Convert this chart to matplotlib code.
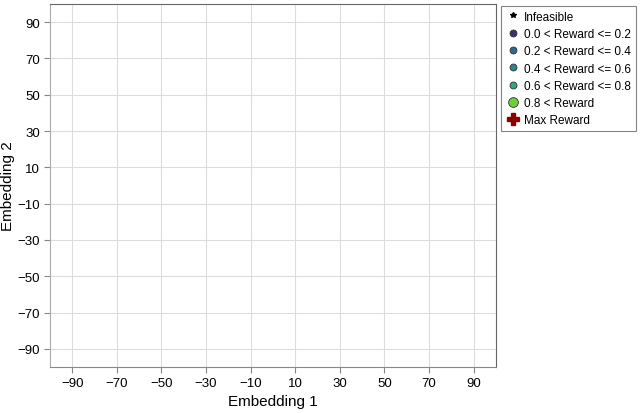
import numpy as np
import matplotlib
matplotlib.use('Agg')
from matplotlib import pyplot as plt
from matplotlib.lines import Line2D

plt.rcParams['font.family'] = ['Liberation Sans', 'DejaVu Sans']

# no points in the reference: all series are empty
emb1 = []
emb2 = []
rewards = []

labels = ['0.0 < Reward <= 0.2', '0.2 < Reward <= 0.4', '0.4 < Reward <= 0.6',
          '0.6 < Reward <= 0.8', '0.8 < Reward']
colors = ['#3b2f73', '#2f6690', '#23878b', '#2aaa7a', '#6ccf3c']
ticks = [-90, -70, -50, -30, -10, 10, 30, 50, 70, 90]

fig = plt.figure(figsize=(6.4, 4.14), dpi=100)
ax = fig.add_axes([0.078, 0.111, 0.697, 0.877])
ax.scatter(emb1, emb2, c=rewards)

ax.set_xlim(-100, 100)
ax.set_ylim(-100, 100)
ax.set_xticks(ticks)
ax.set_yticks(ticks)
ax.set_xticklabels(['\u2212%d' % -t if t < 0 else str(t) for t in ticks])
ax.set_yticklabels(['\u2212%d' % -t if t < 0 else str(t) for t in ticks])
ax.grid(True, color='#dddddd', linewidth=0.8)
ax.set_axisbelow(True)
ax.tick_params(labelsize=9.5, color='#888888', length=4, pad=3)
for s in ax.spines.values():
    s.set_color('#666666')
ax.spines['left'].set_color('#aaaaaa')
ax.spines['bottom'].set_color('#888888')
ax.set_xlabel('Embedding 1', fontsize=11, labelpad=4)
ax.set_ylabel('Embedding 2', fontsize=11, labelpad=2)

handles = [Line2D([], [], marker='*', color='k', linestyle='none', markersize=4,
                  label='Infeasible')]
for c, l in zip(colors, labels):
    handles.append(Line2D([], [], marker='o', color=c, markeredgecolor='#333333',
                          markeredgewidth=0.6, linestyle='none', markersize=5, label=l))
handles[-1].set_markersize(7)
handles.append(Line2D([], [], marker='P', color='#8b0000', linestyle='none',
                      markersize=9, label='Max Reward'))
leg = fig.legend(handles=handles, loc='upper left', bbox_to_anchor=(0.778, 0.992),
                 fontsize=8.5, frameon=True, fancybox=False, handletextpad=0.3,
                 borderpad=0.4, labelspacing=0.45, handlelength=1.2, borderaxespad=0.3)
leg.get_frame().set_edgecolor('#666666')
leg.get_frame().set_linewidth(0.8)

fig.savefig('out.png', dpi=100)
